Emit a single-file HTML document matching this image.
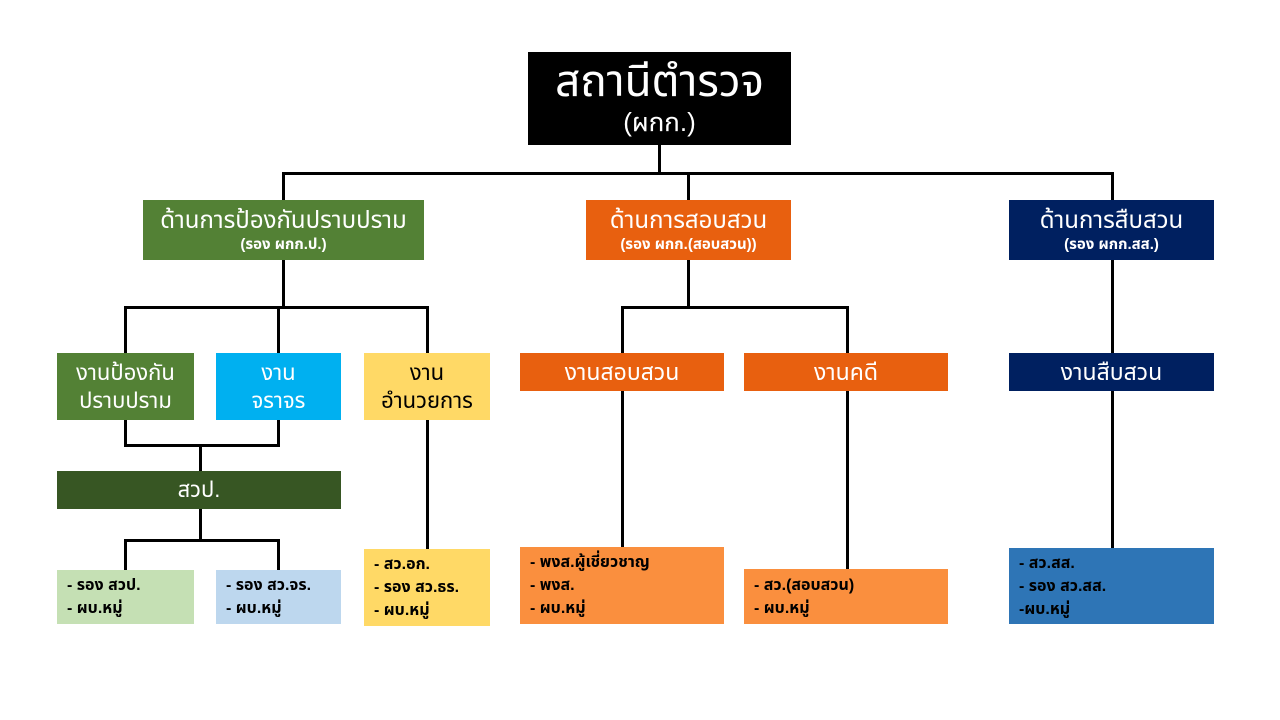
<!DOCTYPE html>
<html><head><meta charset="utf-8"><style>
body{margin:0;width:1280px;height:720px;background:#fff;position:relative;overflow:hidden;font-family:"Liberation Sans","Noto Sans Thai","Loma","Garuda","DejaVu Sans",sans-serif}
.b{position:absolute;display:flex;flex-direction:column;justify-content:center;align-items:center;text-align:center;color:#fff;line-height:1.25;box-sizing:border-box}
.l{position:absolute;background:#000}
.s{align-items:flex-start;text-align:left;padding-left:10px;color:#000;font-size:16px;font-weight:bold;line-height:23px}
.sub{font-size:15px;font-weight:bold}
</style></head><body>
<div class="l" style="left:658px;top:145px;width:3px;height:30px"></div>
<div class="l" style="left:282px;top:172px;width:832px;height:3px"></div>
<div class="l" style="left:282px;top:172px;width:3px;height:28px"></div>
<div class="l" style="left:687px;top:172px;width:3px;height:28px"></div>
<div class="l" style="left:1111px;top:172px;width:3px;height:28px"></div>

<div class="l" style="left:282px;top:260px;width:3px;height:48px"></div>
<div class="l" style="left:124px;top:306px;width:305px;height:3px"></div>
<div class="l" style="left:124px;top:306px;width:3px;height:47px"></div>
<div class="l" style="left:277px;top:306px;width:3px;height:47px"></div>
<div class="l" style="left:426px;top:306px;width:3px;height:47px"></div>

<div class="l" style="left:687px;top:260px;width:3px;height:48px"></div>
<div class="l" style="left:621px;top:306px;width:228px;height:3px"></div>
<div class="l" style="left:621px;top:306px;width:3px;height:47px"></div>
<div class="l" style="left:846px;top:306px;width:3px;height:47px"></div>

<div class="l" style="left:1111px;top:260px;width:3px;height:93px"></div>
<div class="l" style="left:1111px;top:391px;width:3px;height:157px"></div>

<div class="l" style="left:124px;top:420px;width:3px;height:26px"></div>
<div class="l" style="left:277px;top:420px;width:3px;height:26px"></div>
<div class="l" style="left:124px;top:444px;width:156px;height:3px"></div>
<div class="l" style="left:199px;top:444px;width:3px;height:27px"></div>

<div class="l" style="left:199px;top:509px;width:3px;height:32px"></div>
<div class="l" style="left:124px;top:539px;width:156px;height:3px"></div>
<div class="l" style="left:124px;top:539px;width:3px;height:31px"></div>
<div class="l" style="left:277px;top:539px;width:3px;height:31px"></div>

<div class="l" style="left:426px;top:420px;width:3px;height:129px"></div>
<div class="l" style="left:621px;top:391px;width:3px;height:156px"></div>
<div class="l" style="left:846px;top:391px;width:3px;height:178px"></div>

<div class="b" style="left:528px;top:52px;width:263px;height:93px;background:#000"><div style="font-size:44px;line-height:48px">สถานีตำรวจ</div><div style="font-size:26px">(ผกก.)</div></div>

<div class="b" style="left:143px;top:200px;width:281px;height:60px;background:#538135"><div style="font-size:24px">ด้านการป้องกันปราบปราม</div><div class="sub">(รอง ผกก.ป.)</div></div>
<div class="b" style="left:586px;top:200px;width:205px;height:60px;background:#E8600F"><div style="font-size:24px">ด้านการสอบสวน</div><div class="sub">(รอง ผกก.(สอบสวน))</div></div>
<div class="b" style="left:1009px;top:200px;width:205px;height:60px;background:#002060"><div style="font-size:24px">ด้านการสืบสวน</div><div class="sub">(รอง ผกก.สส.)</div></div>

<div class="b" style="left:57px;top:353px;width:137px;height:67px;background:#538135;font-size:22px"><div>งานป้องกัน</div><div>ปราบปราม</div></div>
<div class="b" style="left:216px;top:353px;width:125px;height:67px;background:#00B0F0;font-size:22px"><div>งาน</div><div>จราจร</div></div>
<div class="b" style="left:364px;top:353px;width:126px;height:67px;background:#FFD966;color:#000;font-size:22px"><div>งาน</div><div>อำนวยการ</div></div>
<div class="b" style="left:520px;top:353px;width:204px;height:38px;background:#E8600F;font-size:23px">งานสอบสวน</div>
<div class="b" style="left:744px;top:353px;width:204px;height:38px;background:#E8600F;font-size:23px">งานคดี</div>
<div class="b" style="left:1009px;top:353px;width:205px;height:38px;background:#002060;font-size:23px">งานสืบสวน</div>

<div class="b" style="left:57px;top:471px;width:284px;height:38px;background:#375623;font-size:22px">สวป.</div>

<div class="b s" style="left:57px;top:570px;width:137px;height:54px;background:#C5E0B4"><div>- รอง สวป.</div><div>- ผบ.หมู่</div></div>
<div class="b s" style="left:216px;top:570px;width:125px;height:54px;background:#BDD7EE"><div>- รอง สว.จร.</div><div>- ผบ.หมู่</div></div>
<div class="b s" style="left:364px;top:549px;width:126px;height:77px;background:#FFD966"><div>- สว.อก.</div><div>- รอง สว.ธร.</div><div>- ผบ.หมู่</div></div>
<div class="b s" style="left:520px;top:547px;width:204px;height:77px;background:#FA8F3E"><div>- พงส.ผู้เชี่ยวชาญ</div><div>- พงส.</div><div>- ผบ.หมู่</div></div>
<div class="b s" style="left:744px;top:569px;width:204px;height:55px;background:#FA8F3E"><div>- สว.(สอบสวน)</div><div>- ผบ.หมู่</div></div>
<div class="b s" style="left:1009px;top:548px;width:205px;height:76px;background:#2E75B6"><div>- สว.สส.</div><div>- รอง สว.สส.</div><div>-ผบ.หมู่</div></div>
</body></html>
